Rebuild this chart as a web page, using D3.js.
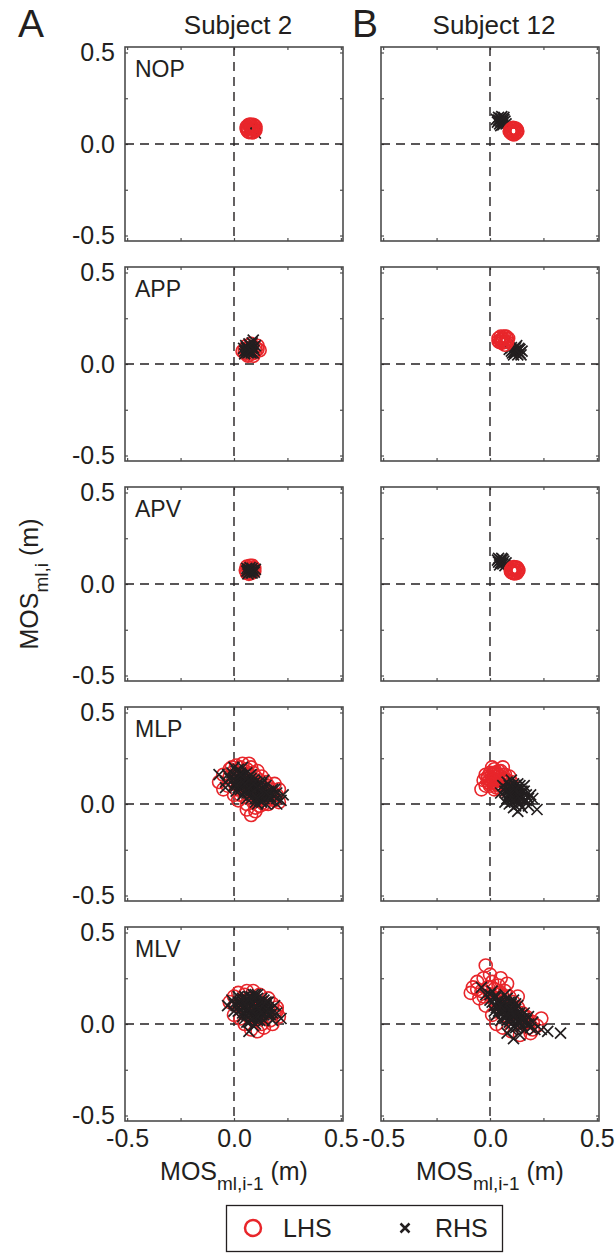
<!DOCTYPE html>
<html>
<head>
<meta charset="utf-8">
<script src="https://cdn.jsdelivr.net/npm/d3@7"></script>
<style>
  body { margin: 0; background: #fff; }
  text { font-family: "Liberation Sans", Arial, sans-serif; fill: #231f20; }
</style>
</head>
<body>
<div id="vis-svg"></div>
<script>
// panel rows and columns
var conditions = ["NOP", "APP", "APV", "MLP", "MLV"];
var subjects = ["Subject 2", "Subject 12"];
var columnLetters = ["A", "B"];
var tickMarks = [-0.5, -0.25, 0, 0.25, 0.5];
var tickLabels = [-0.5, 0, 0.5];

// [MOS(i-1), MOS(i)] pairs, LHS = red circles, RHS = black crosses
var nop2_lhs = [[0.08,0.085],[0.065,0.09],[0.095,0.08],[0.075,0.105],[0.085,0.065],[0.06,0.08],[0.1,0.095],[0.08,0.105],[0.08,0.065],[0.065,0.07],[0.095,0.1],[0.1,0.075],[0.06,0.095],[0.09,0.105],[0.07,0.105],[0.1,0.085],[0.07,0.065],[0.09,0.065],[0.06,0.085],[0.085,0.09]];
var nop2_rhs = [[0.08,0.085],[0.082,0.082],[0.078,0.087],[0.1,0.06]];
var nop12_lhs = [[0.11,0.07],[0.095,0.075],[0.125,0.065],[0.105,0.055],[0.115,0.085],[0.097,0.062],[0.125,0.078],[0.112,0.052],[0.108,0.088],[0.092,0.07],[0.128,0.07],[0.12,0.058],[0.1,0.083],[0.12,0.085],[0.102,0.06]];
var nop12_rhs = [[0.04,0.13],[0.05,0.14],[0.06,0.12],[0.045,0.11],[0.065,0.135],[0.035,0.12],[0.055,0.15],[0.07,0.125],[0.05,0.1],[0.04,0.145],[0.075,0.11],[0.06,0.105],[0.03,0.135],[0.05,0.125],[0.065,0.145]];
var app2_lhs = [[0.05,0.08],[0.06,0.06],[0.08,0.09],[0.1,0.07],[0.11,0.08],[0.07,0.05],[0.09,0.06],[0.06,0.1],[0.08,0.11],[0.05,0.06],[0.1,0.09],[0.07,0.07],[0.12,0.075],[0.065,0.045],[0.09,0.045],[0.11,0.1],[0.04,0.07]];
var app2_rhs = [[0.05,0.07],[0.06,0.09],[0.07,0.08],[0.08,0.07],[0.065,0.06],[0.075,0.1],[0.055,0.1],[0.085,0.085],[0.06,0.075],[0.09,0.06],[0.045,0.085],[0.07,0.11],[0.09,0.13],[0.08,0.095],[0.1,0.1],[0.05,0.055],[0.07,0.065],[0.08,0.06],[0.06,0.085],[0.09,0.09],[0.075,0.075],[0.095,0.075],[0.085,0.115]];
var app12_lhs = [[0.05,0.13],[0.06,0.14],[0.07,0.12],[0.055,0.115],[0.065,0.15],[0.04,0.14],[0.08,0.135],[0.06,0.12],[0.045,0.12],[0.075,0.15],[0.05,0.15],[0.08,0.12],[0.04,0.125],[0.07,0.105],[0.055,0.135],[0.085,0.14]];
var app12_rhs = [[0.1,0.07],[0.11,0.08],[0.12,0.06],[0.13,0.07],[0.14,0.08],[0.12,0.09],[0.11,0.05],[0.13,0.05],[0.1,0.09],[0.14,0.06],[0.12,0.075],[0.15,0.07],[0.09,0.08],[0.125,0.1],[0.115,0.065],[0.135,0.085],[0.105,0.06],[0.145,0.05]];
var apv2_lhs = [[0.07,0.08],[0.085,0.07],[0.06,0.06],[0.09,0.09],[0.075,0.1],[0.055,0.075],[0.095,0.07],[0.07,0.055],[0.085,0.1],[0.06,0.095],[0.08,0.06],[0.095,0.085],[0.065,0.085],[0.08,0.085]];
var apv2_rhs = [[0.06,0.07],[0.07,0.08],[0.08,0.06],[0.09,0.075],[0.075,0.09],[0.065,0.055],[0.085,0.085],[0.07,0.065],[0.095,0.065],[0.06,0.085],[0.1,0.08],[0.08,0.075],[0.065,0.075],[0.085,0.06]];
var apv12_lhs = [[0.115,0.075],[0.1,0.08],[0.13,0.07],[0.11,0.06],[0.12,0.09],[0.1,0.065],[0.13,0.083],[0.115,0.057],[0.112,0.093],[0.097,0.072],[0.133,0.074],[0.125,0.06],[0.105,0.088],[0.125,0.09],[0.105,0.062]];
var apv12_rhs = [[0.04,0.12],[0.05,0.13],[0.06,0.11],[0.045,0.105],[0.055,0.14],[0.035,0.13],[0.065,0.125],[0.05,0.115],[0.07,0.1],[0.04,0.14],[0.06,0.135],[0.075,0.115]];
var mlp2_lhs = [[-0.02,0.15],[-0.01,0.2],[0.0,0.18],[0.01,0.21],[0.02,0.16],[0.03,0.2],[0.04,0.22],[0.05,0.18],[0.0,0.12],[0.02,0.1],[0.03,0.13],[0.05,0.14],[0.06,0.19],[0.07,0.16],[0.08,0.2],[0.09,0.17],[0.1,0.15],[0.04,0.08],[0.06,0.1],[0.08,0.12],[0.1,0.11],[0.12,0.13],[0.13,0.1],[0.11,0.08],[0.09,0.06],[0.07,0.05],[0.05,0.04],[0.12,0.06],[0.14,0.08],[0.15,0.05],[0.16,0.1],[0.13,0.03],[0.11,0.02],[0.09,0.01],[0.1,-0.02],[0.12,-0.01],[0.14,0.0],[0.17,0.03],[0.18,0.06],[0.16,0.0],[0.19,0.02],[0.08,-0.06],[0.06,0.0],[0.03,0.05],[0.01,0.08],[0.15,0.12],[0.17,0.08],[0.2,0.05],[-0.03,0.1],[0.02,0.02],[0.07,0.22],[0.11,0.18],[0.13,0.15],[0.06,-0.03],[0.1,-0.04],
  [-0.07,0.12],[-0.05,0.08],[-0.05,0.16],[0.21,0.08],[0.19,0.11],[0.21,0.01],[-0.02,0.19],[0.0,0.05]];
var mlp2_rhs = [[-0.07,0.16],[-0.04,0.12],[-0.02,0.14],[0.0,0.1],[0.01,0.15],[0.02,0.12],[0.03,0.17],[0.04,0.1],[0.05,0.13],[0.06,0.08],[0.07,0.11],[0.08,0.14],[0.09,0.09],[0.1,0.12],[0.11,0.07],[0.12,0.1],[0.13,0.05],[0.14,0.08],[0.15,0.04],[0.16,0.07],[0.17,0.02],[0.18,0.05],[0.2,0.03],[0.22,0.02],[0.19,0.08],[0.04,0.05],[0.06,0.03],[0.08,0.05],[0.1,0.03],[0.12,0.02],[0.03,0.08],[0.05,0.07],[0.07,0.06],[0.09,0.1],[0.11,0.11],[0.13,0.09],[0.15,0.1],[0.02,0.19],[0.05,0.16],[0.07,0.15],[0.09,0.13],[0.0,0.2],[0.04,0.2],[0.14,0.13],[0.1,0.06],[0.08,0.08],[0.06,0.11],[0.12,0.04],[0.16,0.04],[0.01,0.07],[0.15,0.0],[0.11,0.0],
  [0.02,0.14],[0.04,0.15],[0.06,0.14],[0.08,0.11],[0.1,0.09],[0.12,0.07],[0.14,0.05],[0.03,0.11],[0.05,0.1],[0.07,0.09],[0.09,0.07],[0.11,0.05],[0.13,0.07],[0.06,0.06],[0.08,0.03],[0.1,0.01],[0.03,0.14],[0.01,0.12],[-0.01,0.17],[0.01,0.18],[0.06,0.17],[0.08,0.16],[0.12,0.12],[0.17,0.06],[0.14,0.03],[0.18,0.08],[0.2,0.06],[0.02,0.09],[0.0,0.14],[0.04,0.12],
  [-0.04,0.09],[-0.03,0.16],[0.2,0.0],[0.23,0.05],[0.05,0.11],[0.07,0.13],[0.09,0.11],[0.11,0.09],[0.13,0.11],[0.15,0.06],[0.17,0.04],[0.03,0.16],[0.01,0.1],[0.11,0.03],[0.13,0.01]];
var mlp12_lhs = [[-0.04,0.08],[-0.02,0.1],[-0.01,0.14],[0.0,0.17],[0.01,0.12],[0.02,0.15],[0.02,0.19],[0.03,0.13],[0.04,0.16],[0.04,0.1],[0.05,0.18],[0.06,0.14],[0.06,0.12],[0.07,0.16],[0.08,0.13],[0.03,0.09],[0.0,0.1],[0.05,0.08],[0.08,0.1],[0.1,0.12],[-0.03,0.13],[0.01,0.2],[0.06,0.2],[0.09,0.15],
  [0.0,0.13],[0.02,0.12],[0.04,0.13],[0.03,0.17],[0.01,0.16],[-0.02,0.16],[0.05,0.11],[0.07,0.13],[0.03,0.11],[-0.01,0.12],[0.05,0.15],[0.02,0.08],
  [0.01,0.14],[0.03,0.15],[0.04,0.18],[0.02,0.17],[-0.01,0.15],[0.06,0.16],[0.0,0.11],[0.02,0.13]];
var mlp12_rhs = [[0.06,0.1],[0.07,0.07],[0.08,0.12],[0.09,0.05],[0.1,0.09],[0.1,0.03],[0.11,0.06],[0.12,0.1],[0.12,0.02],[0.13,0.05],[0.14,0.08],[0.14,0.0],[0.15,0.04],[0.16,0.07],[0.17,0.02],[0.18,-0.01],[0.2,0.03],[0.22,-0.03],[0.08,0.03],[0.09,0.0],[0.11,-0.02],[0.13,-0.04],[0.05,0.06],[0.07,0.01],[0.1,0.13],[0.13,0.11],[0.16,0.1],[0.19,0.05],[0.11,0.04],[0.09,0.08],[0.15,-0.02],[0.12,0.06],
  [0.08,0.08],[0.1,0.06],[0.12,0.04],[0.14,0.05],[0.11,0.08],[0.13,0.08],[0.09,0.1],[0.07,0.09],[0.1,0.01],[0.12,-0.01],[0.15,0.07],[0.16,0.02],[0.14,0.1],[0.11,0.11],[0.08,0.06],[0.18,0.03],[0.13,0.02],[0.17,0.05],
  [0.1,0.04],[0.12,0.08],[0.11,0.02],[0.13,0.06],[0.09,0.06],[0.14,0.03]];
var mlv2_lhs = [[-0.02,0.12],[0.0,0.15],[0.01,0.1],[0.02,0.17],[0.03,0.13],[0.04,0.07],[0.05,0.16],[0.06,0.11],[0.07,0.04],[0.08,0.14],[0.09,0.08],[0.1,0.02],[0.11,0.12],[0.12,0.06],[0.13,0.0],[0.14,0.1],[0.15,0.04],[0.16,0.08],[0.17,0.02],[0.18,0.11],[0.19,0.06],[0.2,0.09],[0.21,0.04],[0.05,0.0],[0.08,-0.03],[0.11,-0.04],[0.14,-0.02],[0.03,0.03],[0.06,0.18],[0.12,0.16],[0.16,0.14],[0.0,0.05],[0.09,0.18],[0.18,0.0],[0.2,0.07]];
var mlv2_rhs = [[-0.03,0.1],[-0.01,0.13],[0.0,0.07],[0.02,0.15],[0.03,0.1],[0.04,0.04],[0.05,0.13],[0.06,0.08],[0.07,0.15],[0.08,0.05],[0.09,0.11],[0.1,0.0],[0.1,0.08],[0.11,0.14],[0.12,0.04],[0.13,0.09],[0.14,0.02],[0.15,0.07],[0.16,0.12],[0.17,0.05],[0.18,0.02],[0.2,0.06],[0.22,0.03],[0.07,-0.04],[0.09,-0.01],[0.06,0.01],[0.12,0.12],[0.14,0.13],[0.04,0.09],[0.08,0.1],[0.11,0.06],[0.13,0.05],[0.05,0.06],[0.09,0.16],[0.02,0.07],[0.16,0.09],[0.19,0.1],[0.07,0.11],
  [0.03,0.12],[0.05,0.1],[0.07,0.08],[0.09,0.06],[0.11,0.09],[0.13,0.07],[0.15,0.1],[0.04,0.06],[0.06,0.13],[0.08,0.12],[0.1,0.13],[0.12,0.1],[0.14,0.08],[0.16,0.05],[0.1,0.04],[0.08,0.02],[0.06,0.05],[0.12,0.02],[0.14,0.11],[0.05,0.15],[0.09,0.14],[0.03,0.08],[0.01,0.1],[0.11,0.02],[0.13,0.12],[0.07,0.13],[0.17,0.08],[0.1,0.16],
  [0.02,0.12],[0.04,0.14],[0.06,0.1],[0.08,0.07],[0.1,0.1],[0.12,0.08],[0.14,0.05],[0.16,0.07],[0.18,0.06],[0.11,0.04],[0.09,0.03],[0.07,0.01],[0.13,0.14],[0.15,0.12],[0.05,0.03],[0.0,0.11],[0.08,0.15],[0.11,0.16]];
var mlv12_lhs = [[-0.02,0.32],[-0.08,0.2],[-0.06,0.23],[-0.04,0.18],[-0.03,0.25],[-0.01,0.2],[0.0,0.16],[0.01,0.23],[0.02,0.19],[0.03,0.14],[0.04,0.21],[0.05,0.17],[0.06,0.12],[0.07,0.18],[0.08,0.1],[0.09,0.15],[0.1,0.07],[0.11,0.12],[0.12,0.04],[0.13,0.09],[0.14,0.02],[0.15,0.06],[0.16,0.0],[0.17,0.04],[0.18,-0.02],[0.2,0.01],[0.22,-0.01],[0.19,-0.05],[0.14,-0.06],[0.1,-0.04],[0.06,-0.02],[0.03,0.0],[0.01,0.05],[-0.02,0.1],[-0.05,0.14],[0.0,0.27],[0.05,0.25],[0.08,0.22],[-0.09,0.17],[0.13,0.15],[0.24,0.03],
  [-0.03,0.15],[0.0,0.2],[0.02,0.13],[0.04,0.16],[-0.06,0.19],[0.06,0.15],[0.1,0.1],[0.12,0.07],[0.16,0.04],[0.18,0.01],[0.2,-0.03]];
var mlv12_rhs = [[-0.04,0.2],[-0.02,0.16],[0.0,0.13],[0.01,0.18],[0.02,0.1],[0.03,0.15],[0.04,0.07],[0.05,0.12],[0.06,0.04],[0.07,0.1],[0.08,0.02],[0.08,0.14],[0.09,0.07],[0.1,0.0],[0.1,0.11],[0.11,0.04],[0.12,-0.02],[0.12,0.08],[0.13,0.02],[0.14,0.06],[0.15,-0.01],[0.16,0.03],[0.17,0.0],[0.18,0.04],[0.19,-0.02],[0.2,0.01],[0.21,-0.03],[0.24,-0.03],[0.27,-0.04],[0.33,-0.05],[0.11,-0.08],[0.08,-0.05],[0.14,-0.06],[0.05,0.02],[0.06,0.09],[0.03,0.05],[0.07,0.16],[0.1,0.05],[0.13,0.1],[0.09,0.03],[0.04,0.11],[0.15,0.05],[0.11,0.13],[0.02,0.07],[0.12,0.05],
  [0.05,0.08],[0.07,0.05],[0.09,0.09],[0.11,0.07],[0.13,0.04],[0.15,0.02],[0.06,0.11],[0.08,0.08],[0.1,0.03],[0.12,0.0],[0.14,0.03],[0.04,0.13],[0.02,0.15],[0.06,0.06],[0.08,0.05],[0.1,0.08],[0.12,0.11],[0.16,0.06],[0.17,0.02],[0.07,0.12],[0.09,0.01],[0.11,0.1],[0.13,0.06],[0.03,0.09],[0.0,0.16],[0.18,0.0],[0.16,-0.03],[0.13,-0.01],[0.1,-0.03],
  [0.04,0.09],[0.06,0.07],[0.08,0.11],[0.1,0.07],[0.12,0.03],[0.14,0.01],[0.09,0.12],[0.11,0.05],[0.07,0.03],[0.05,0.1],[0.15,0.03],[0.01,0.12]];

var lhs = [[nop2_lhs, nop12_lhs], [app2_lhs, app12_lhs], [apv2_lhs, apv12_lhs], [mlp2_lhs, mlp12_lhs], [mlv2_lhs, mlv12_lhs]];
var rhs = [[nop2_rhs, nop12_rhs], [app2_rhs, app12_rhs], [apv2_rhs, apv12_rhs], [mlp2_rhs, mlp12_rhs], [mlv2_rhs, mlv12_rhs]];
// panels where the red circles sit on top of the crosses
var redOnTop = ["NOP-0", "NOP-1", "APP-1", "APV-1"];

var width = 615;
var height = 1253;
var red = "#e8262b";
var ink = "#231f20";
var frameColor = "#4d4d4d";

var colLeft = [125, 381];
var rowTop = 47;
var rowStep = 220;
var pw = 218;
var ph = 194;

var x = d3.scaleLinear().domain([-0.51, 0.51]).range([0, pw]);
var y = d3.scaleLinear().domain([-0.53, 0.53]).range([ph, 0]);
var fmt = function(d) { return d.toFixed(1); };

var svg = d3
.select("#vis-svg")
.append("svg")
.attr("width", width)
.attr("height", height);

var crossPath = "M-5.5,-5.5L5.5,5.5M-5.5,5.5L5.5,-5.5";

function drawPanel(g, ri, ci) {
  // inward ticks on all four sides
  g.append("g").attr("transform", "translate(0," + ph + ")")
  .call(d3.axisBottom(x).tickValues(tickMarks).tickSize(-3).tickFormat(""));
  g.append("g")
  .call(d3.axisTop(x).tickValues(tickMarks).tickSize(-3).tickFormat(""));
  g.append("g")
  .call(d3.axisLeft(y).tickValues(tickMarks).tickSize(-3).tickFormat(""));
  g.append("g").attr("transform", "translate(" + pw + ",0)")
  .call(d3.axisRight(y).tickValues(tickMarks).tickSize(-3).tickFormat(""));
  g.selectAll(".domain").remove();
  g.selectAll(".tick line").attr("stroke", frameColor).attr("stroke-width", 1.2);

  if (ci === 0) {
    var yl = g.append("g")
    .call(d3.axisLeft(y).tickValues(tickLabels).tickSize(0).tickPadding(10).tickFormat(fmt));
    yl.select(".domain").remove();
    yl.selectAll("text").style("font-size", "25px").attr("fill", ink)
    .style("font-family", "Liberation Sans, Arial, sans-serif");
  }
  if (ri === conditions.length - 1) {
    var xl = g.append("g").attr("transform", "translate(0," + ph + ")")
    .call(d3.axisBottom(x).tickValues(tickLabels).tickSize(0).tickPadding(8).tickFormat(fmt));
    xl.select(".domain").remove();
    xl.selectAll("text").style("font-size", "25px").attr("fill", ink)
    .style("font-family", "Liberation Sans, Arial, sans-serif");
  }

  // dashed zero lines
  g.append("line")
  .attr("x1", x(0)).attr("x2", x(0)).attr("y1", 0).attr("y2", ph)
  .attr("stroke", ink).attr("stroke-width", 1.4).attr("stroke-dasharray", "9,6");
  g.append("line")
  .attr("x1", 0).attr("x2", pw).attr("y1", y(0)).attr("y2", y(0))
  .attr("stroke", ink).attr("stroke-width", 1.4).attr("stroke-dasharray", "9,6");

  function drawLhs() {
    g.append("g").selectAll("circle")
    .data(lhs[ri][ci])
    .enter()
    .append("circle")
    .attr("cx", function(d) { return x(d[0]); })
    .attr("cy", function(d) { return y(d[1]); })
    .attr("r", 6.5)
    .attr("fill", "none")
    .attr("stroke", red)
    .attr("stroke-width", 1.6);
  }
  function drawRhs() {
    g.append("g").selectAll("path")
    .data(rhs[ri][ci])
    .enter()
    .append("path")
    .attr("transform", function(d) { return "translate(" + x(d[0]) + "," + y(d[1]) + ")"; })
    .attr("d", crossPath)
    .attr("fill", "none")
    .attr("stroke", ink)
    .attr("stroke-width", 1.7);
  }
  if (redOnTop.indexOf(conditions[ri] + "-" + ci) >= 0) {
    drawRhs();
    drawLhs();
  } else {
    drawLhs();
    drawRhs();
  }

  // frame
  g.append("rect")
  .attr("width", pw).attr("height", ph)
  .attr("fill", "none").attr("stroke", frameColor).attr("stroke-width", 1.6);

  if (ci === 0) {
    g.append("text")
    .attr("x", 10).attr("y", 30)
    .style("font-size", "23px")
    .text(conditions[ri]);
  }
}

conditions.forEach(function(c, ri) {
  subjects.forEach(function(s, ci) {
    var g = svg.append("g")
    .attr("transform", "translate(" + colLeft[ci] + "," + (rowTop + ri * rowStep) + ")");
    drawPanel(g, ri, ci);
  });
});

// column headers
subjects.forEach(function(s, ci) {
  svg.append("text")
  .attr("x", colLeft[ci] + pw / 2 + 4).attr("y", 34)
  .attr("text-anchor", "middle")
  .style("font-size", "26px")
  .text(s);
  svg.append("text")
  .attr("x", ci === 0 ? 18 : colLeft[ci] - 29).attr("y", 37)
  .style("font-size", "39px")
  .text(columnLetters[ci]);
});

// x axis titles
subjects.forEach(function(s, ci) {
  var t = svg.append("text")
  .attr("x", colLeft[ci] + pw / 2).attr("y", 1180)
  .attr("text-anchor", "middle")
  .style("font-size", "25px");
  t.append("tspan").text("MOS");
  t.append("tspan").attr("dy", 10).style("font-size", "19px").text("ml,i-1");
  t.append("tspan").attr("dy", -10).text(" (m)");
});

// y axis title
var yt = svg.append("text")
.attr("transform", "translate(38," + (rowTop + 2 * rowStep + ph / 2) + ") rotate(-90)")
.attr("text-anchor", "middle")
.style("font-size", "25px");
yt.append("tspan").text("MOS");
yt.append("tspan").attr("dy", 10).style("font-size", "19px").text("ml,i");
yt.append("tspan").attr("dy", -10).text(" (m)");

// legend
var legend = svg.append("g");
legend.append("rect")
.attr("x", 226.5).attr("y", 1205.5).attr("width", 276).attr("height", 46)
.attr("fill", "none").attr("stroke", ink).attr("stroke-width", 1.3);
legend.append("circle")
.attr("cx", 253).attr("cy", 1228).attr("r", 8)
.attr("fill", "none").attr("stroke", red).attr("stroke-width", 2.5);
legend.append("text").attr("x", 283).attr("y", 1237).style("font-size", "25px").text("LHS");
legend.append("path")
.attr("transform", "translate(405,1228)")
.attr("d", "M-4.5,-4.5L4.5,4.5M-4.5,4.5L4.5,-4.5")
.attr("stroke", ink).attr("stroke-width", 2.5);
legend.append("text").attr("x", 435).attr("y", 1237).style("font-size", "25px").text("RHS");
</script>
</body>
</html>
